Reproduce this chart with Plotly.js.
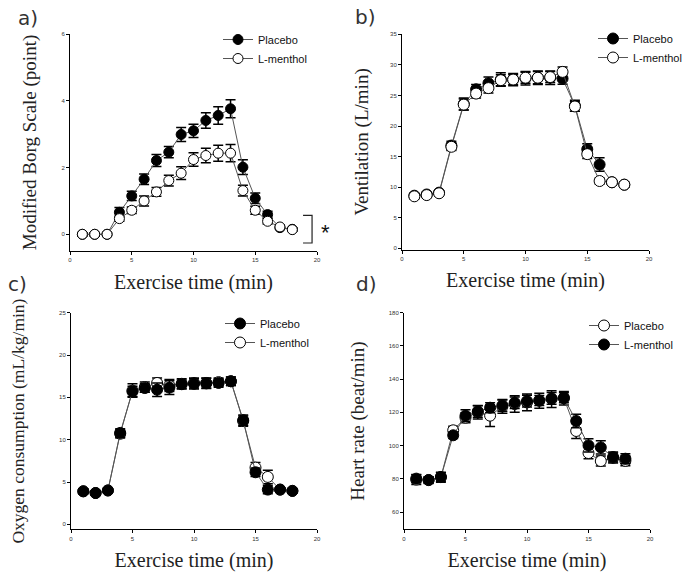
<!DOCTYPE html>
<html>
<head>
<meta charset="utf-8">
<script src="https://cdn.plot.ly/plotly-3.0.1.min.js"></script>
<style>html,body{margin:0;padding:0;background:#fff;}#chart{width:696px;height:574px;}</style>
</head>
<body>
<div id="chart"></div>
<script>
// ---------- data ----------
const time = [1,2,3,4,5,6,7,8,9,10,11,12,13,14,15,16,17,18];

// a) Modified Borg Scale (point)
const borgPlacebo   = [0,0,0,0.66,1.15,1.65,2.21,2.46,2.99,3.10,3.41,3.56,3.76,2.01,1.08,0.59,0.20,0.15];
const borgPlaceboSE = [0.05,0.05,0.05,0.14,0.14,0.16,0.18,0.17,0.21,0.20,0.23,0.26,0.27,0.22,0.16,0.10,0.05,0.05];
const borgMenthol   = [0,0,0,0.47,0.72,1.00,1.27,1.61,1.83,2.24,2.36,2.43,2.43,1.31,0.72,0.39,0.22,0.14];
const borgMentholSE = [0.05,0.05,0.05,0.08,0.10,0.15,0.13,0.16,0.19,0.20,0.22,0.24,0.26,0.16,0.12,0.08,0.05,0.05];

// b) Ventilation (L/min)
const vePlacebo   = [8.6,8.8,9.1,16.8,23.6,26.0,27.0,27.6,27.6,27.8,27.9,27.9,27.75,23.3,16.2,13.7,10.8,10.4];
const vePlaceboSE = [0.4,0.4,0.4,0.7,1.0,0.8,1.0,1.1,1.0,1.1,1.1,1.1,0.9,0.9,0.9,1.1,0.4,0.4];
const veMenthol   = [8.5,8.7,9.0,16.6,23.5,25.3,26.2,27.5,27.6,27.9,27.9,28.0,28.85,23.2,15.4,11.0,10.8,10.4];
const veMentholSE = [0.4,0.4,0.4,0.6,0.9,0.7,0.8,0.9,0.8,0.9,1.0,0.9,0.8,0.8,0.7,0.5,0.4,0.4];

// c) Oxygen consumption (mL/kg/min)
const vo2Placebo   = [3.9,3.7,4.0,10.8,15.7,16.1,15.9,16.15,16.55,16.6,16.65,16.7,16.9,12.3,6.15,4.1,4.1,3.95];
const vo2PlaceboSE = [0.3,0.2,0.3,0.5,0.6,0.5,0.8,0.8,0.5,0.6,0.6,0.5,0.5,0.6,0.5,0.5,0.2,0.2];
const vo2Menthol   = [3.9,3.7,4.0,10.7,15.8,16.2,16.7,16.4,16.6,16.7,16.7,16.8,16.9,12.2,6.7,5.6,4.1,3.95];
const vo2MentholSE = [0.3,0.2,0.3,0.5,0.8,0.6,0.6,0.7,0.6,0.6,0.6,0.5,0.5,0.6,0.6,0.8,0.2,0.2];

// d) Heart rate (beat/min)
const hrPlacebo   = [79.5,79.2,81,109.2,116.8,120,118,123.5,125,126,127,128,128.5,108.8,95.5,90.7,92.5,90.8];
const hrPlaceboSE = [3,2,3,2.5,3,4,6.5,4,5,5,4.5,5,4,4.5,3.5,3,3,3];
const hrMenthol   = [80.1,79.3,81.1,106.2,118,120.6,122.8,124.2,125.8,126.8,127.2,128.4,128.8,114.8,100.1,98.9,93.1,92.1];
const hrMentholSE = [2.5,2,2.5,2,3.5,3.5,3,3.5,3.5,3.5,3,3.5,3,4,4,4,3,3];

const seriesNames = ['Placebo', 'L-menthol'];
const xTicks = [0,5,10,15,20];
const yTicksA = [0,2,4,6];
const yTicksB = [0,5,10,15,20,25,30,35];
const yTicksC = [0,5,10,15,20,25];
const yTicksD = [60,80,100,120,140,160,180];
const xTitle = 'Exercise time (min)';
const yTitles = ['Modified Borg Scale (point)', 'Ventilation (L/min)', 'Oxygen consumption (mL/kg/min)', 'Heart rate (beat/min)'];
const panelLabels = ['a)', 'b)', 'c)', 'd)'];

// ---------- traces ----------
function tr(y, se, name, filled, ax, legend, rank, msize) {
  return {
    type: 'scatter', mode: 'lines+markers', x: time, y: y, name: name,
    xaxis: 'x' + ax, yaxis: 'y' + ax, legend: legend, legendrank: rank,
    line: {color: '#555', width: 1},
    marker: {symbol: 'circle', size: msize, color: filled ? '#000' : '#fff', line: {color: '#000', width: 1}},
    error_y: {type: 'data', array: se, visible: true, color: '#000', thickness: 1.5, width: 5},
    cliponaxis: false
  };
}
const data = [
  tr(borgPlacebo, borgPlaceboSE, seriesNames[0], true, '', 'legend', 1, 10),
  tr(borgMenthol, borgMentholSE, seriesNames[1], false, '', 'legend', 2, 10),
  tr(vePlacebo, vePlaceboSE, seriesNames[0], true, '2', 'legend2', 1, 11),
  tr(veMenthol, veMentholSE, seriesNames[1], false, '2', 'legend2', 2, 11),
  tr(vo2Menthol, vo2MentholSE, seriesNames[1], false, '3', 'legend3', 2, 11),
  tr(vo2Placebo, vo2PlaceboSE, seriesNames[0], true, '3', 'legend3', 1, 11),
  tr(hrPlacebo, hrPlaceboSE, seriesNames[0], false, '4', 'legend4', 1, 11),
  tr(hrMenthol, hrMentholSE, seriesNames[1], true, '4', 'legend4', 2, 11)
];

// ---------- layout ----------
const W = 696, H = 574;
const tickFont = {family: "'Liberation Sans', Arial, sans-serif", size: 6, color: '#333'};
const serif = "'Liberation Serif', 'Times New Roman', serif";
function xa(dom, anchor) {
  return {domain: dom, anchor: anchor, range: [0, 20], tickvals: xTicks, ticks: 'outside', ticklen: 3,
    tickcolor: '#000', showline: true, linecolor: '#000', linewidth: 1, showgrid: false, zeroline: false,
    tickfont: tickFont, title: {text: xTitle, font: {family: serif, size: 20, color: '#222'}, standoff: 12}};
}
function ya(dom, anchor, range, tv, title, standoff, fs) {
  return {domain: dom, anchor: anchor, range: range, tickvals: tv, ticks: 'outside', ticklen: 3,
    tickcolor: '#000', showline: true, linecolor: '#000', linewidth: 1, showgrid: false, zeroline: false,
    tickfont: tickFont, title: {text: title, font: {family: serif, size: fs, color: '#222'}, standoff: standoff}};
}
function leg(xpx, ypx) {
  return {x: xpx / W, y: 1 - ypx / H, xanchor: 'left', yanchor: 'top', bgcolor: 'rgba(0,0,0,0)',
    borderwidth: 0, font: {family: "'Liberation Sans', Arial, sans-serif", size: 11, color: '#111'},
    traceorder: 'normal', itemwidth: 30};
}
const layout = {
  width: W, height: H, margin: {l: 0, r: 0, t: 0, b: 0},
  paper_bgcolor: '#fff', plot_bgcolor: '#fff', showlegend: true,
  xaxis:  xa([70/W, 317/W], 'y'),
  yaxis:  ya([1-251/H, 1-34/H], 'x', [-0.5, 6], yTicksA, yTitles[0], 19, 19),
  xaxis2: xa([402/W, 649/W], 'y2'),
  yaxis2: ya([1-249.5/H, 1-34.3/H], 'x2', [-0.2, 35], yTicksB, yTitles[1], 16, 19),
  xaxis3: xa([71/W, 317/W], 'y3'),
  yaxis3: ya([1-529.4/H, 1-312.7/H], 'x3', [-0.6, 25], yTicksC, yTitles[2], 29, 17.5),
  xaxis4: xa([404/W, 650/W], 'y4'),
  yaxis4: ya([1-529.3/H, 1-312.7/H], 'x4', [49.6, 180], yTicksD, yTitles[3], 19, 19),
  legend:  leg(218, 25),
  legend2: leg(593, 24),
  legend3: leg(220, 309),
  legend4: leg(584, 311),
  shapes: [
    {type: 'path', xref: 'x', yref: 'y', path: 'M 18.87 0.57 L 19.6 0.57 L 19.6 -0.26 L 18.87 -0.26',
     line: {color: '#222', width: 1.2}}
  ],
  annotations: [
    {text: '*', xref: 'paper', yref: 'paper', x: 325/W, y: 1-232/H, xanchor: 'center', yanchor: 'middle', showarrow: false,
     font: {family: "'Liberation Sans', Arial, sans-serif", size: 22, color: '#111'}},
    {text: panelLabels[0], xref: 'paper', yref: 'paper', x: 16/W, y: 1-18/H, xanchor: 'left', yanchor: 'middle', showarrow: false,
     font: {family: "'DejaVu Sans', sans-serif", size: 20, color: '#333'}},
    {text: panelLabels[1], xref: 'paper', yref: 'paper', x: 353/W, y: 1-17/H, xanchor: 'left', yanchor: 'middle', showarrow: false,
     font: {family: "'DejaVu Sans', sans-serif", size: 20, color: '#333'}},
    {text: panelLabels[2], xref: 'paper', yref: 'paper', x: 6/W, y: 1-284/H, xanchor: 'left', yanchor: 'middle', showarrow: false,
     font: {family: "'DejaVu Sans', sans-serif", size: 20, color: '#333'}},
    {text: panelLabels[3], xref: 'paper', yref: 'paper', x: 354/W, y: 1-284/H, xanchor: 'left', yanchor: 'middle', showarrow: false,
     font: {family: "'DejaVu Sans', sans-serif", size: 20, color: '#333'}}
  ]
};
Plotly.newPlot('chart', data, layout, {staticPlot: true, displayModeBar: false});
</script>
</body>
</html>
